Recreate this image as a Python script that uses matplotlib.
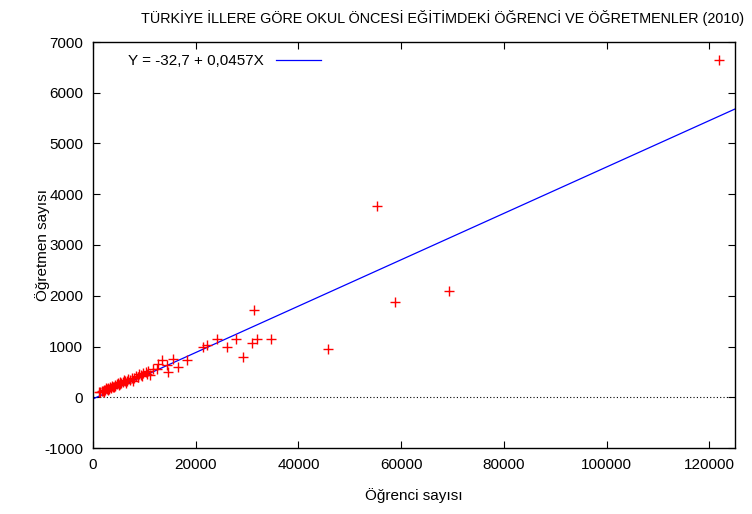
import matplotlib
matplotlib.use("Agg")
import matplotlib.pyplot as plt
import numpy as np

plt.rcParams['font.family'] = ['Liberation Sans', 'DejaVu Sans']
plt.rcParams['axes.unicode_minus'] = False

# Ogrenci (x) ve ogretmen (y) sayilari
ogrenci = [1150, 1420, 1680, 1900, 2050, 2300, 2480, 2700, 2950, 3100,
           3350, 3500, 3780, 3950, 4200, 4350, 4600, 4850, 5050, 5300,
           5500, 5800, 6050, 6300, 6600, 6900, 7200, 7500, 7900, 8300,
           8700, 9000, 9400, 9800, 10300, 10800, 2200, 3000, 4100, 5200,
           6400, 7700, 8800, 9600, 10500, 11100, 11600, 12400, 12720, 13380,
           14350, 14670, 15640, 16620, 18370, 21360, 22260, 24090, 26160, 27790,
           29270, 30900, 31410, 32000, 34600, 45820, 55370, 58810, 69390, 121900]
ogretmen = [95, 110, 130, 120, 150, 140, 175, 160, 190, 170,
            205, 190, 230, 210, 250, 230, 260, 280, 250, 300,
            290, 310, 340, 320, 330, 360, 340, 380, 370, 420,
            400, 450, 430, 470, 500, 520, 110, 150, 200, 270,
            290, 330, 390, 410, 450, 433, 560, 565, 664, 729,
            631, 499, 749, 597, 729, 991, 1025, 1157, 991, 1157,
            794, 1078, 1714, 1157, 1143, 960, 3769, 1878, 2095, 6654]

# regresyon katsayilari
a, b = -32.7, 0.0457

fig = plt.figure(figsize=(7.52, 5.14), dpi=100)
ax = fig.add_axes([93/752, 1 - 448/514, (735-93)/752, (448-42)/514])

ax.plot(ogrenci, ogretmen, '+', color='red', markersize=7.5, markeredgewidth=1.0, zorder=3)
xl = np.array([0, 125000])
ax.plot(xl, a + b*xl, color='blue', linewidth=0.9, label='Y = -32,7 + 0,0457X', zorder=2)
ax.axhline(0, color='black', linestyle=(0, (1, 2)), linewidth=0.8, zorder=1)

ax.set_xlim(0, 125000)
ax.set_ylim(-1000, 7000)
ax.set_xticks(range(0, 125000, 20000))
ax.set_yticks(range(-1000, 7001, 1000))
ax.tick_params(direction='in', top=True, right=True, length=5, labelsize=11, pad=7)
for s in ax.spines.values():
    s.set_linewidth(1.0)

ax.set_xlabel('Öğrenci sayısı', fontsize=11, labelpad=12)
ax.set_ylabel('Öğretmen sayısı', fontsize=11, labelpad=-4)
fig.text(443/752, 1 - 18/514, 'TÜRKİYE İLLERE GÖRE OKUL ÖNCESİ EĞİTİMDEKİ ÖĞRENCİ VE ÖĞRETMENLER (2010)',
         ha='center', va='center', fontsize=10.4)

ax.legend(loc='upper left', frameon=False, markerfirst=False, fontsize=11,
          handlelength=3.0, borderaxespad=0.4, bbox_to_anchor=(0.035, 1.0))

fig.savefig('out.png', dpi=100)
